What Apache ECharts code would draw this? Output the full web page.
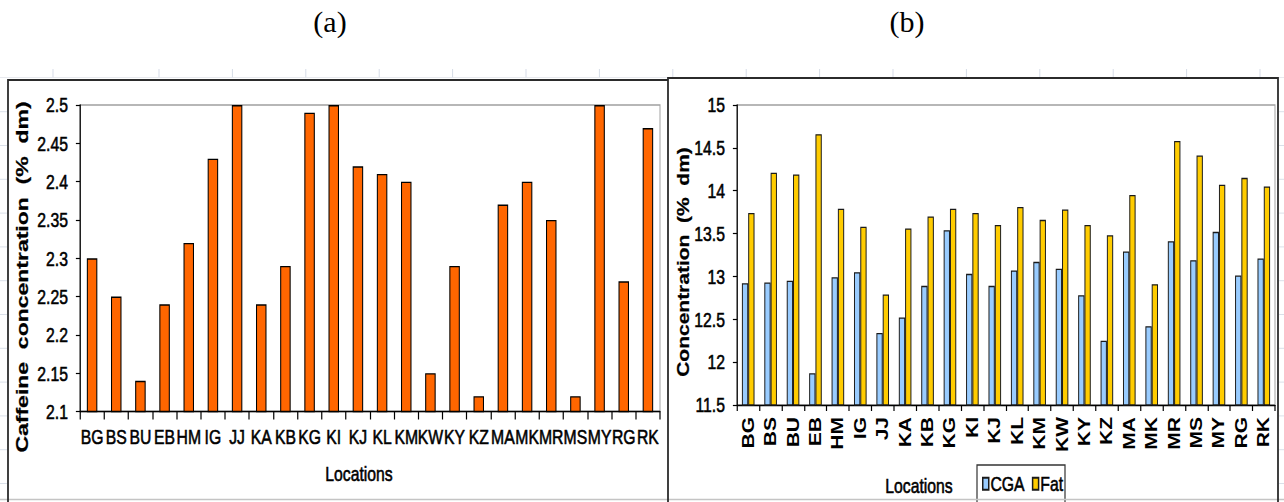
<!DOCTYPE html>
<html>
<head>
<meta charset="utf-8">
<title>Caffeine, CGA and fat by location</title>
<script src="https://cdn.jsdelivr.net/npm/echarts@6/dist/echarts.min.js"></script>
<style>
  html, body { margin: 0; padding: 0; background: #fff; overflow: hidden; }
  #wrap { position: relative; width: 1284px; height: 502px; overflow: hidden; }
  /* the figure is laid out in a wider coordinate space and condensed horizontally */
  #main { position: absolute; left: 0; top: 0; width: 1712px; height: 502px;
          transform: scaleX(0.75); transform-origin: 0 0; }
  #cap { position: absolute; left: 0; top: 0; width: 1284px; height: 60px; }
</style>
</head>
<body>
<div id="wrap">
  <div id="main"></div>
  <div id="cap"></div>
</div>
<script>
// ---- data ----
const locations = ['BG','BS','BU','EB','HM','IG','JJ','KA','KB','KG','KI','KJ','KL','KM','KW','KY','KZ','MA','MK','MR','MS','MY','RG','RK'];
const caffeine = [2.30,2.25,2.14,2.24,2.32,2.43,2.50,2.24,2.29,2.49,2.50,2.42,2.41,2.40,2.15,2.29,2.12,2.37,2.40,2.35,2.12,2.50,2.27,2.47];
const cga = [12.92,12.93,12.95,11.87,12.99,13.05,12.34,12.52,12.89,13.54,13.03,12.89,13.07,13.17,13.09,12.78,12.25,13.29,12.42,13.41,13.19,13.52,13.01,13.21];
const fat = [13.74,14.21,14.19,14.66,13.79,13.58,12.79,13.56,13.70,13.79,13.74,13.60,13.81,13.66,13.78,13.60,13.48,13.95,12.91,14.58,14.41,14.07,14.15,14.05];
const caffeineTicks = [2.1,2.15,2.2,2.25,2.3,2.35,2.4,2.45,2.5];
const concTicks = [11.5,12,12.5,13,13.5,14,14.5,15];
const seriesNames = ['CGA','Fat'];

// ---- layout helpers ----
const SX = 0.75;                 // horizontal condensing factor
const px = x => x / SX;          // page x -> chart x
const FONT = "'Liberation Sans', Arial, Helvetica, sans-serif";
const INK = '#000';
const HEAVY = { textBorderColor: INK, textBorderWidth: 0.6 };   // slightly heavier strokes for labels

function tickFmt(v) { return String(+v.toFixed(2)); }

function valueAxis(ticks, gridIndex) {
  return {
    type: 'value', gridIndex,
    min: ticks[0], max: ticks[ticks.length - 1], interval: ticks[1] - ticks[0],
    splitLine: { show: false },
    axisLine: { show: true, lineStyle: { color: INK, width: 1.6 } },
    axisTick: { show: true, inside: false, length: 5.5, lineStyle: { color: INK, width: 1.2 } },
    axisLabel: Object.assign({ color: INK, fontFamily: FONT, fontSize: 21, margin: px(12), formatter: tickFmt }, HEAVY)
  };
}

function catAxis(gridIndex, label, tickLen) {
  return {
    type: 'category', gridIndex, data: locations, boundaryGap: true,
    axisLine: { show: true, lineStyle: { color: INK, width: 1.4 } },
    axisTick: { show: true, length: tickLen, lineStyle: { color: INK, width: 1.6 } },
    axisLabel: Object.assign({ interval: 0, color: INK, fontFamily: FONT }, label)
  };
}

// spreadsheet cell lines around the two chart frames
const cellColor = '#d5dbe6';
const graphics = [];
const colEdges = [53];
for (let x = 159; x < 1284; x += 73.4) colEdges.push(x);
colEdges.forEach(x => graphics.push({ type: 'line', silent: true,
  shape: { x1: px(x), y1: 69, x2: px(x), y2: 78 }, style: { stroke: cellColor, lineWidth: 1.3 } }));
graphics.push({ type: 'line', silent: true, shape: { x1: 0, y1: 77.5, x2: px(1284), y2: 77.5 },
  style: { stroke: '#e3e6ec', lineWidth: 1 } });
graphics.push({ type: 'line', silent: true, shape: { x1: 0, y1: 499.5, x2: px(1284), y2: 499.5 },
  style: { stroke: '#c4c4c4', lineWidth: 1.5 } });
for (let y = 111.7; y < 500; y += 33.8) {
  graphics.push({ type: 'line', silent: true, shape: { x1: 0, y1: y, x2: px(7), y2: y }, style: { stroke: cellColor, lineWidth: 1 } });
  graphics.push({ type: 'line', silent: true, shape: { x1: px(1279), y1: y, x2: px(1284), y2: y }, style: { stroke: cellColor, lineWidth: 1 } });
}

// chart frames
const frame = { stroke: '#2b2b2b' };
graphics.push({ type: 'line', silent: true, shape: { x1: px(8), y1: 80, x2: px(668), y2: 80 }, style: Object.assign({ lineWidth: 2 }, frame) });
graphics.push({ type: 'line', silent: true, shape: { x1: px(8), y1: 79, x2: px(8), y2: 502 }, style: Object.assign({ lineWidth: 2.4 }, frame) });
graphics.push({ type: 'line', silent: true, shape: { x1: px(668), y1: 78, x2: px(1278), y2: 78 }, style: Object.assign({ lineWidth: 2 }, frame) });
graphics.push({ type: 'line', silent: true, shape: { x1: px(668), y1: 77, x2: px(668), y2: 502 }, style: Object.assign({ lineWidth: 2.4 }, frame) });
graphics.push({ type: 'line', silent: true, shape: { x1: px(1278), y1: 77, x2: px(1278), y2: 502 }, style: Object.assign({ lineWidth: 2.4 }, frame) });

// axis titles
function label(text, x, y, size, bold, rot) {
  return { type: 'text', silent: true, x: px(x), y: y, rotation: rot || 0,
    style: { text, fill: INK, align: 'center', verticalAlign: 'middle',
             stroke: INK, lineWidth: bold ? 0.3 : 0.6,
             font: (bold ? 'bold ' : '') + size + 'px ' + FONT } };
}
graphics.push(label('Caffeine  concentration  (%  dm)', 22, 277, 23, true, Math.PI / 2));
graphics.push(label('Concentration  (%  dm)', 683, 262, 21, true, Math.PI / 2));
graphics.push(label('Locations', 359, 474, 21, false));
graphics.push(label('Locations', 919, 486, 21, false));

// legend box
graphics.push({ type: 'rect', silent: true, z: -1,
  shape: { x: px(977), y: 465, width: px(1065) - px(977), height: 50 },
  style: { fill: 'none', stroke: '#333', lineWidth: 1.6 } });

const chart = echarts.init(document.getElementById('main'), null, { renderer: 'svg' });
chart.setOption({
  animation: false,
  backgroundColor: 'transparent',
  grid: [
    { left: px(80), top: 105, width: px(660) - px(80), height: 306.5,
      show: true, borderColor: '#a0a0a0', borderWidth: 1.3, backgroundColor: 'transparent' },
    { left: px(737), top: 105, width: px(1275) - px(737), height: 300,
      show: true, borderColor: '#a0a0a0', borderWidth: 1.3, backgroundColor: 'transparent' }
  ],
  xAxis: [
    catAxis(0, Object.assign({ fontSize: 21, margin: 15 }, HEAVY), 8),
    catAxis(1, { fontSize: 21, fontWeight: 'bold', rotate: 90, margin: 12 }, 6)
  ],
  yAxis: [ valueAxis(caffeineTicks, 0), valueAxis(concTicks, 1) ],
  legend: {
    data: seriesNames, left: px(982), top: 473, padding: 0,
    itemWidth: px(6), itemHeight: 12, itemGap: px(7),
    icon: 'rect',
    textStyle: Object.assign({ color: INK, fontFamily: FONT, fontSize: 21, padding: [0, 0, 0, -px(2)] }, HEAVY)
  },
  series: [
    { type: 'bar', name: 'Caffeine', xAxisIndex: 0, yAxisIndex: 0, data: caffeine,
      barWidth: px(10.5),
      itemStyle: { color: '#FF6600', borderColor: '#000', borderWidth: 1.4 } },
    { type: 'bar', name: seriesNames[0], xAxisIndex: 1, yAxisIndex: 1, data: cga,
      barWidth: px(6.3), barGap: '0%',
      itemStyle: { color: '#99CCFF', borderColor: '#1a1a1a', borderWidth: 1.3 } },
    { type: 'bar', name: seriesNames[1], xAxisIndex: 1, yAxisIndex: 1, data: fat,
      barWidth: px(6.3), barGap: '0%',
      itemStyle: { color: '#FFCC00', borderColor: '#1a1a1a', borderWidth: 1.3 } }
  ],
  graphic: graphics
});

// panel captions, drawn without the horizontal condensing
const cap = echarts.init(document.getElementById('cap'), null, { renderer: 'svg' });
cap.setOption({
  animation: false,
  graphic: [
    { type: 'text', x: 330, y: 21, style: { text: '(a)', fill: '#000', align: 'center', verticalAlign: 'middle',
      font: "30px 'Liberation Serif', 'Times New Roman', serif" } },
    { type: 'text', x: 907, y: 21, style: { text: '(b)', fill: '#000', align: 'center', verticalAlign: 'middle',
      font: "30px 'Liberation Serif', 'Times New Roman', serif" } }
  ]
});
</script>
</body>
</html>
